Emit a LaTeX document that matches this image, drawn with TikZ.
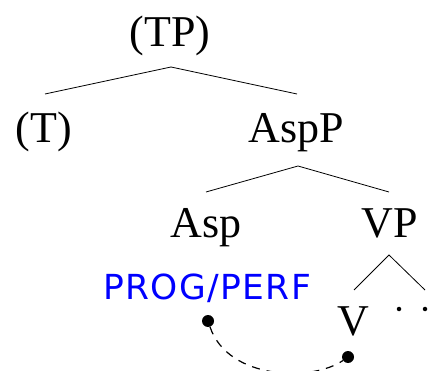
\documentclass[tikz,border=0pt]{standalone}
\usepackage{fontspec}
\setmainfont{Liberation Serif}
\newfontfamily\glossfont[LetterSpace=4]{DejaVu Sans}
\begin{document}
\begin{tikzpicture}[x=1pt,y=-1pt,
  cat/.style={anchor=base,inner sep=0pt,font=\fontsize{44}{48}\selectfont},
  gloss/.style={anchor=base,inner sep=0pt,text=blue,font=\glossfont\fontsize{34.5}{38}\selectfont},
  branch/.style={line width=0.8pt},
  trace/.style={circle,fill=black,inner sep=0pt,minimum size=12pt},
  dotmark/.style={circle,fill=black,inner sep=0pt,minimum size=4.5pt},
  link/.style={line width=1.2pt,dash pattern=on 8pt off 7pt}]
\useasboundingbox (0,0) rectangle (447,371);

% category labels
\node[cat] (TP)   at (170,47)  {(TP)};
\node[cat] (T)    at (44,143)  {(T)};
\node[cat] (AspP) at (296,143) {AspP};
\node[cat] (Asp)  at (206,238) {Asp};
\node[cat] (VP)   at (390,238) {VP};
\node[cat] (V)    at (353,335) {V};
\node[gloss] (feat) at (207,299) {PROG/PERF};

% elided material under VP
\node[dotmark] (e1) at (399,309) {};
\node[dotmark] (e2) at (425,309) {};

% branch points
\coordinate (TPb)   at (171,67);
\coordinate (TPl)   at (45,94);
\coordinate (TPr)   at (297,94);
\coordinate (AspPb) at (298,166);
\coordinate (AspPl) at (206,192);
\coordinate (AspPr) at (389,192);
\coordinate (VPb)   at (389,255);
\coordinate (VPl)   at (354,290);
\coordinate (VPr)   at (425,290);

\draw[branch] (TPl) -- (TPb) -- (TPr);
\draw[branch] (AspPl) -- (AspPb) -- (AspPr);
\draw[branch] (VPl) -- (VPb) -- (VPr);

% movement link
\node[trace] (d1) at (208,321) {};
\node[trace] (d2) at (348,357) {};
\coordinate (c1) at (228,380);
\coordinate (c2) at (312,382);
\draw[link] (d1) .. controls (c1) and (c2) .. (d2);
\end{tikzpicture}
\end{document}
